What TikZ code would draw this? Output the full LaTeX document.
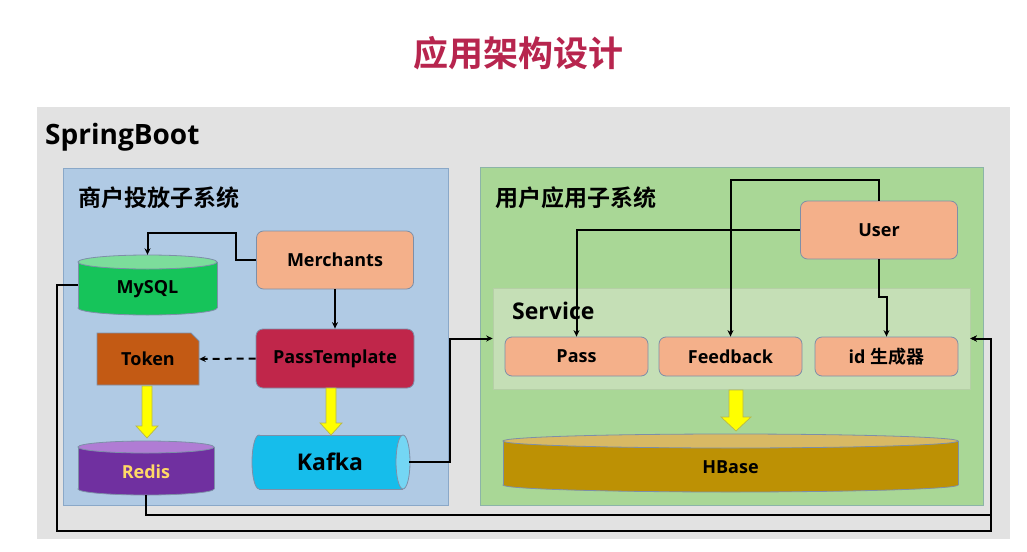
\documentclass[tikz,border=0pt]{standalone}
\usepackage{fontspec}
\setmainfont{Open Sans}
\newfontfamily\cjk{Noto Sans CJK SC}[BoldFont={Noto Sans CJK SC Bold}]
\usetikzlibrary{arrows.meta,calc}
\definecolor{titlec}{HTML}{B7254E}
\definecolor{grayb}{HTML}{E2E2E2}
\definecolor{blueb}{HTML}{B0CAE4}
\definecolor{blueline}{HTML}{8AA8C8}
\definecolor{greenb}{HTML}{A9D796}
\definecolor{greenline}{HTML}{8CB4A8}
\definecolor{servb}{HTML}{C5DFB6}
\definecolor{servline}{HTML}{B5CFA6}
\definecolor{salmon}{HTML}{F4B08A}
\definecolor{boxline}{HTML}{7D8FA8}
\definecolor{ptc}{HTML}{C0264A}
\definecolor{tokc}{HTML}{C35A14}
\definecolor{mysqlb}{HTML}{16C45A}
\definecolor{mysqlt}{HTML}{7CDD9B}
\definecolor{redisb}{HTML}{7030A0}
\definecolor{redist}{HTML}{B07CD4}
\definecolor{redistext}{HTML}{FFD966}
\definecolor{kafkab}{HTML}{16BDEB}
\definecolor{kafkat}{HTML}{74D6F4}
\definecolor{hbaseb}{HTML}{BD9104}
\definecolor{hbaset}{HTML}{D8B964}
\definecolor{yarrowc}{HTML}{FFFF00}
\definecolor{yarrowl}{HTML}{B8B84A}
\newcommand{\vcyl}[7]{%
  \pgfmathsetmacro\cylcx{(#1+#3)/2}%
  \pgfmathsetmacro\cylrx{(#3-#1)/2}%
  \filldraw[fill=#6,draw=boxline,line width=0.8pt] (\cylcx,#4-#5) ellipse [x radius=\cylrx,y radius=#5];
  \fill[#6] (#1,#2+#5) rectangle (#3,#4-#5);
  \draw[boxline,line width=0.8pt] (#1,#2+#5) -- (#1,#4-#5) (#3,#2+#5) -- (#3,#4-#5);
  \filldraw[fill=#7,draw=boxline,line width=0.8pt] (\cylcx,#2+#5) ellipse [x radius=\cylrx,y radius=#5];
}
\newcommand{\hcyl}[7]{%
  \pgfmathsetmacro\cylcy{(#2+#4)/2}%
  \pgfmathsetmacro\cylry{(#4-#2)/2}%
  \filldraw[fill=#6,draw=boxline,line width=0.8pt] (#1+#5,\cylcy) ellipse [x radius=#5,y radius=\cylry];
  \fill[#6] (#1+#5,#2) rectangle (#3-#5,#4);
  \draw[boxline,line width=0.8pt] (#1+#5,#2) -- (#3-#5,#2) (#1+#5,#4) -- (#3-#5,#4);
  \filldraw[fill=#7,draw=boxline,line width=0.8pt] (#3-#5,\cylcy) ellipse [x radius=#5,y radius=\cylry];
}
% x, ytop, ybottom(tip), half shaft, half head, head height
\newcommand{\yarrow}[6]{%
  \filldraw[fill=yarrowc,draw=yarrowl,line width=0.7pt,line join=miter]
    (#1-#4,#2) -- (#1-#4,#3-#6) -- (#1-#5,#3-#6) -- (#1,#3) -- (#1+#5,#3-#6)
    -- (#1+#4,#3-#6) -- (#1+#4,#2) -- cycle;
}
\tikzset{
  conn/.style={line width=2pt,draw=black,-{Stealth[length=6.5pt,width=6pt]}},
  rbox/.style={rounded corners=7pt,draw=boxline,line width=0.8pt,fill=salmon,
    inner sep=0pt,font=\bfseries\fontsize{18}{21}\selectfont},
  blank/.style={inner sep=0pt,draw=none},
  lbl/.style={inner sep=0pt,anchor=west},
}
\begin{document}
\begin{tikzpicture}[x=1pt,y=-1pt]
\useasboundingbox (0,0) rectangle (1027,551);
\fill[white] (0,0) rectangle (1027,551);
% title
\node[blank,text=titlec,font=\cjk\bfseries\fontsize{35}{40}\selectfont] (title) at (518,53) {应用架构设计};
% containers
\fill[grayb] (37,107) rectangle (1010,539);
\node[lbl,font=\bfseries\fontsize{28}{32}\selectfont] (sb) at (45,137) {SpringBoot};
\filldraw[fill=blueb,draw=blueline,line width=0.8pt] (63,168) rectangle (448,505);
\node[lbl,font=\cjk\bfseries\fontsize{23}{26}\selectfont] (mlabel) at (78,198) {商户投放子系统};
\filldraw[fill=greenb,draw=greenline,line width=0.8pt] (480,167) rectangle (983,505);
\node[lbl,font=\cjk\bfseries\fontsize{23}{26}\selectfont] (ulabel) at (495,198) {用户应用子系统};
\node[blank,fill=servb,draw=servline,line width=0.6pt,minimum width=477,minimum height=101] (service) at (731.5,338.5) {};
\node[lbl,font=\bfseries\fontsize{23}{26}\selectfont] (slabel) at (512,311) {Service};

% merchant subsystem
\node[rbox,minimum width=157,minimum height=58] (merch) at (335,260) {Merchants};
\node[rbox,fill=ptc,minimum width=158,minimum height=59] (pt) at (335,358.5) {PassTemplate};
\filldraw[fill=tokc,draw=boxline,line width=0.8pt] (97,333) -- (191,333) -- (199,341) -- (199,385) -- (97,385) -- cycle;
\node[blank,minimum width=102,minimum height=52,font=\bfseries\fontsize{18}{21}\selectfont] (token) at (148,359) {Token};
\vcyl{78}{255}{217}{315}{7}{mysqlb}{mysqlt}
\node[blank,minimum width=139,minimum height=60,
  label={[font=\bfseries\fontsize{18}{21}\selectfont,yshift=-4pt]center:MySQL}] (mysql) at (147.5,285) {};
\vcyl{78}{441}{214}{495}{6}{redisb}{redist}
\node[blank,minimum width=136,minimum height=54,
  label={[text=redistext,font=\bfseries\fontsize{18}{21}\selectfont,yshift=-4pt]center:Redis}] (redis) at (146,468) {};
\hcyl{252}{435}{410}{489}{7}{kafkab}{kafkat}
\node[blank,minimum width=158,minimum height=54,font=\bfseries\fontsize{23}{26}\selectfont] (kafka) at (330,462) {Kafka};

% user subsystem
\node[rbox,minimum width=157,minimum height=58] (user) at (879,230) {User};
\node[rbox,minimum width=143,minimum height=39] (pass) at (576.5,356.5) {Pass};
\node[rbox,minimum width=143,minimum height=39] (feedback) at (730.5,356.5) {Feedback};
\node[rbox,minimum width=143,minimum height=39] (idgen) at (886.5,356.5) {id {\cjk\bfseries 生成器}};
\vcyl{503}{434}{958}{492}{7}{hbaseb}{hbaset}
\node[blank,minimum width=455,minimum height=58,
  label={[font=\bfseries\fontsize{18}{21}\selectfont,yshift=-4pt]center:HBase}] (hbase) at (730.5,463) {};

% block arrows
\yarrow{147}{386}{438}{5}{11}{12}
\yarrow{331}{388}{435}{5}{11}{12}
\yarrow{736}{390}{431}{7}{15}{14}

% connectors
\coordinate (rt) at ($(service.east)+(21,0)$);
\draw[conn] (merch.west) -- ++(-20,0) |- ($(mysql.north)+(0,-22)$) -- (mysql.north);
\draw[conn] (merch.south) -- (pt.north);
\draw[conn,dash pattern=on 7pt off 5pt] (pt.west) -- (token.east);
\draw[conn] (kafka.east) -- ++(41,0) |- (service.west);
\draw[conn] (user.north) -- ++(0,-21) -| (feedback.north);
\draw[conn] (user.west) -| (pass.north);
\draw[conn] (user.south) -- ++(0,38) -| (idgen.north);
\draw[conn] (redis.south) -- ++(0,20) -| (rt) -- (service.east);
\draw[conn] (mysql.west) -- ++(-21,0) |- ($(rt)+(0,192)$) -- (rt) -- (service.east);
\end{tikzpicture}
\end{document}
